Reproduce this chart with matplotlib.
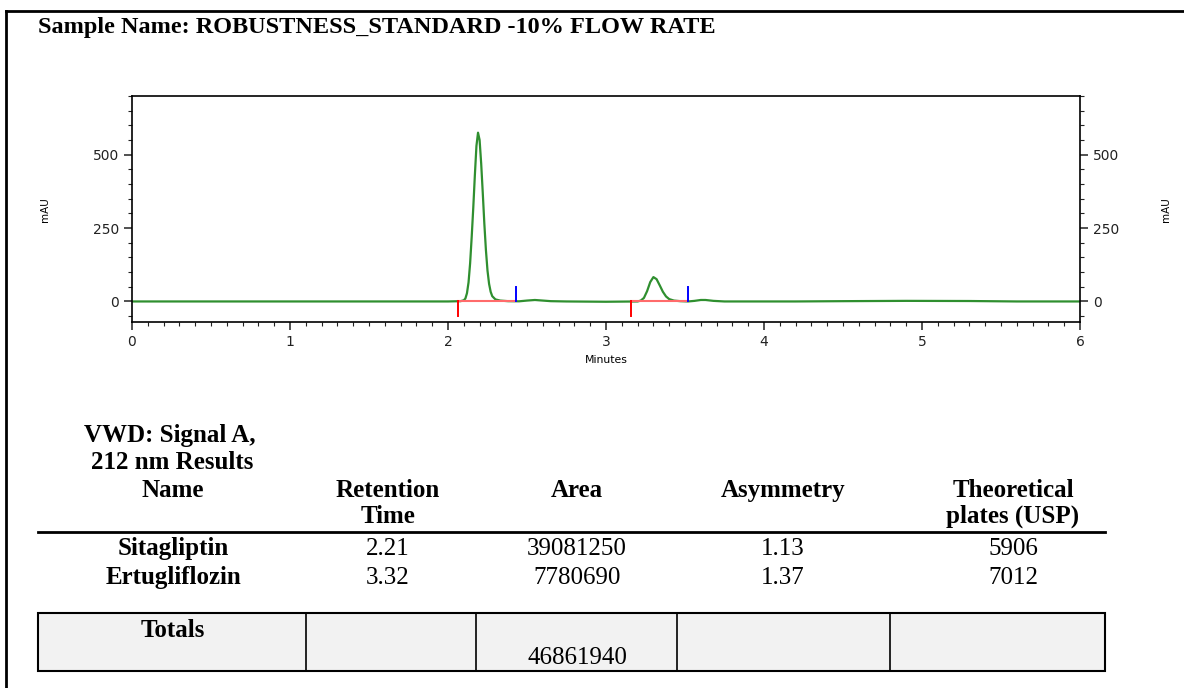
import matplotlib
matplotlib.use("Agg")
import matplotlib.pyplot as plt
from matplotlib.ticker import MultipleLocator
from matplotlib.patches import Rectangle

# chromatogram trace (minutes, mAU)
time_min = [0.0, 1.0, 2.0, 2.08, 2.10, 2.11, 2.12, 2.13, 2.14, 2.15, 2.16, 2.17, 2.18, 2.19,
            2.20, 2.21, 2.22, 2.23, 2.24, 2.25, 2.26, 2.27, 2.28, 2.30, 2.33, 2.38, 2.45,
            2.50, 2.55, 2.60, 2.65, 2.75, 3.00, 3.20, 3.22, 3.24, 3.26, 3.28, 3.30, 3.32,
            3.34, 3.36, 3.38, 3.40, 3.43, 3.47, 3.52, 3.56, 3.60, 3.63, 3.68, 3.75, 4.20,
            4.50, 4.90, 5.30, 5.60, 6.0]
signal_mau = [0, 0, 0, 1, 4, 10, 28, 65, 130, 220, 320, 430, 530, 575,
              550, 470, 370, 265, 175, 105, 60, 33, 18, 7, 3, 1, 0.5,
              3, 5, 3, 1, 0, -1, 0, 3, 12, 35, 66, 83, 76,
              55, 33, 17, 8, 3, 1, 0, 2, 5, 5, 2, 0, 0,
              1, 2, 1.5, 0, 0]

# integration events: peak start / end (minutes)
peak_start = [2.065, 3.158]
peak_end = [2.43, 3.52]

# results table
compounds = ["Sitagliptin", "Ertugliflozin"]
retention = ["2.21", "3.32"]
areas = ["39081250", "7780690"]
asymmetry = ["1.13", "1.37"]
plates = ["5906", "7012"]
total_area = "46861940"

W, H = 1184, 688
fig = plt.figure(figsize=(W / 100, H / 100), dpi=100)


def fx(x):
    return x / W


def fy(y):
    return 1 - y / H


serif = "Liberation Serif"
sans = "DejaVu Sans"

# page border
fig.add_artist(plt.Line2D([fx(6), fx(6)], [fy(11), 0], color="black", lw=2))
fig.add_artist(plt.Line2D([fx(6), 1], [fy(11), fy(11)], color="black", lw=2))

fig.text(fx(38), fy(33), "Sample Name: ROBUSTNESS_STANDARD -10% FLOW RATE",
         family=serif, weight="bold", fontsize=17.5, va="baseline", ha="left")

ax = fig.add_axes([fx(132), fy(322), (1080 - 132) / W, (322 - 96) / H])
ax.plot(time_min, signal_mau, color="#2f8f2f", lw=1.6)
for s, e in zip(peak_start, peak_end):
    ax.plot([s, e], [0, 0], color="#ff6b6b", lw=1.5)
    ax.plot([s, s], [0, -48], color="red", lw=1.4)
    ax.plot([e, e], [0, 50], color="blue", lw=1.4)

ax.set_xlim(0, 6)
ax.set_ylim(-70, 700)
ax.xaxis.set_major_locator(MultipleLocator(1))
ax.xaxis.set_minor_locator(MultipleLocator(0.1))
ax.yaxis.set_major_locator(MultipleLocator(250))
ax.yaxis.set_minor_locator(MultipleLocator(50))
ax.tick_params(which="both", direction="out", labelsize=10, colors="#222222",
               left=True, right=True, labelright=True, top=False)
ax.tick_params(which="major", length=6, width=1.1)
ax.tick_params(which="minor", length=3, width=0.8)
for lab in ax.get_xticklabels() + ax.get_yticklabels():
    lab.set_family(sans)
for sp in ax.spines.values():
    sp.set_linewidth(1.2)
ax.set_xlabel("Minutes", family=sans, fontsize=7.8, labelpad=4)
fig.text(fx(45), fy(210), "mAU", family=sans, fontsize=7.5, rotation=90,
         ha="center", va="center")
fig.text(fx(1166), fy(210), "mAU", family=sans, fontsize=7.5, rotation=90,
         ha="center", va="center")

# results block
fs = 18
fig.text(fx(170), fy(442), "VWD: Signal A,", family=serif, weight="bold",
         fontsize=fs, ha="center", va="baseline")
fig.text(fx(172), fy(469), "212 nm Results", family=serif, weight="bold",
         fontsize=fs, ha="center", va="baseline")

col_x = [173, 388, 577, 783, 1013]
headers = [["Name"], ["Retention", "Time"], ["Area"], ["Asymmetry"],
           ["Theoretical", "plates (USP)"]]
for cx, lines in zip(col_x, headers):
    for i, line in enumerate(lines):
        fig.text(fx(cx), fy(497 + 26 * i), line, family=serif, weight="bold",
                 fontsize=fs, ha="center", va="baseline")

fig.add_artist(plt.Line2D([fx(38), fx(1105)], [fy(532), fy(532)],
                          color="black", lw=2))

rows = zip(compounds, retention, areas, asymmetry, plates)
for r, row in enumerate(rows):
    y = 555 + 29 * r
    for c, (cx, val) in enumerate(zip(col_x, row)):
        fig.text(fx(cx), fy(y), val, family=serif,
                 weight="bold" if c == 0 else "normal",
                 fontsize=fs, ha="center", va="baseline")

# totals box
box_top, box_bot = 613, 671
fig.add_artist(Rectangle((fx(38), fy(box_bot)), (1105 - 38) / W,
                         (box_bot - box_top) / H, transform=fig.transFigure,
                         facecolor="#f2f2f2", edgecolor="black", lw=1.5))
for dx in [306, 476, 677, 890]:
    fig.add_artist(plt.Line2D([fx(dx), fx(dx)], [fy(box_top), fy(box_bot)],
                              color="black", lw=1.2))
fig.text(fx(173), fy(637), "Totals", family=serif, weight="bold",
         fontsize=fs, ha="center", va="baseline")
fig.text(fx(577), fy(664), total_area, family=serif, fontsize=fs,
         ha="center", va="baseline")

fig.savefig("out.png", dpi=100)
